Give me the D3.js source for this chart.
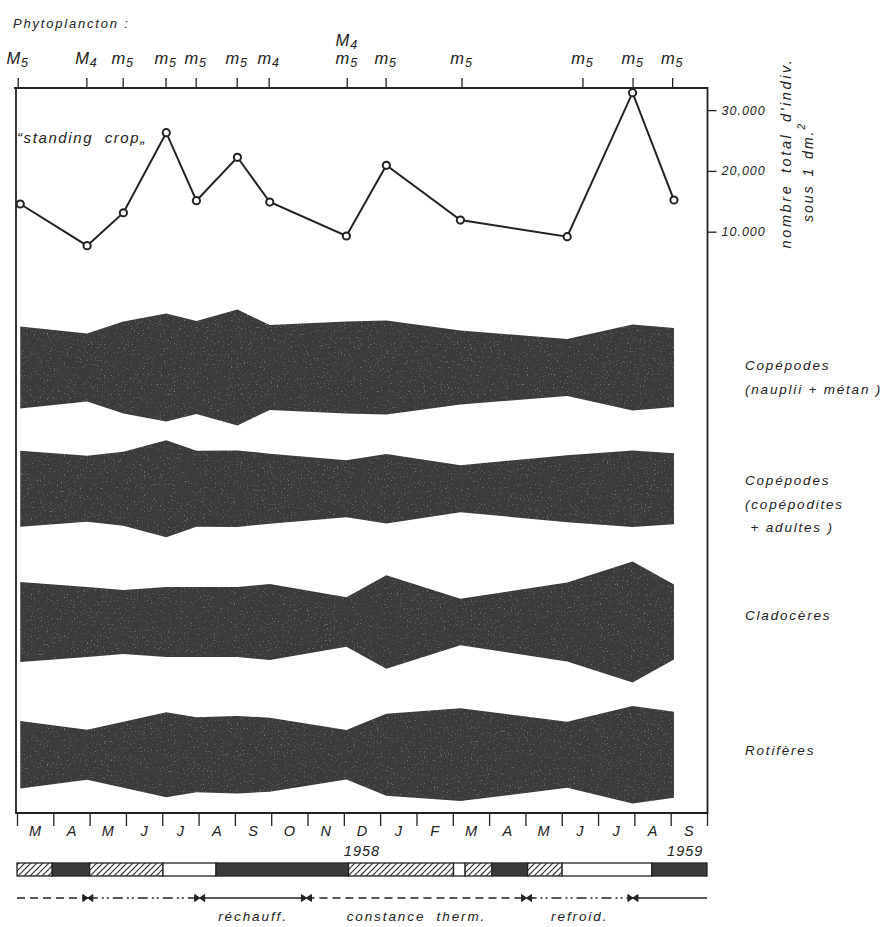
<!DOCTYPE html>
<html>
<head>
<meta charset="utf-8">
<script src="https://cdn.jsdelivr.net/npm/d3@7"></script>
<style>
  body { margin: 0; background: #fff; }
  svg { font-family: 'Liberation Sans', Arial, sans-serif; font-style: italic; }
  text { fill: #222; }
</style>
</head>
<body>
<svg width="893" height="927"></svg>
<script>
// time axis: months counted from 1 March 1958
const months = ['M','A','M','J','J','A','S','O','N','D','J','F','M','A','M','J','J','A','S'];
const yearLabels = ['1958', '1959'];
const yearMonths = [9.5, 18.4];

// sampling dates and phytoplankton standing crop (indiv. / dm2)
const sampleMonths = [0.09, 1.93, 2.93, 4.11, 4.94, 6.07, 6.96, 9.07, 10.17, 12.21, 15.15, 16.95, 18.09];
const phyto = [14560, 7700, 13120, 26280, 15100, 22240, 14880, 9290, 20920, 11920, 9180, 32860, 15210];

// dominant phytoplankton types on the top axis
const phytoLabelMonths = [0.02, 1.91, 2.91, 4.09, 4.92, 6.05, 6.93, 9.08, 10.15, 12.24, 15.57, 16.95, 18.04];
const phytoLabels = ['M5','M4','m5','m5','m5','m5','m4','m5','m5','m5','m5','m5','m5'];
const phytoLabelsUpper = ['','','','','','','','M4','','','','',''];
const phytoTicks = [10000, 20000, 30000];
const phytoTickLabels = ['10.000', '20,000', '30.000'];

// zooplankton relative abundance (kite half-widths, arbitrary units)
const copNauplii = [41, 34, 46, 54, 46.5, 58, 42.5, 46, 47, 37, 28.5, 43, 39.5];
const copAdultes = [38, 33, 37, 48.5, 38, 38.3, 35, 28.5, 34.7, 23.5, 33.5, 38.3, 35.5];
const cladoceres = [40, 35, 32, 35, 35, 35, 38, 24.7, 46.7, 23.3, 39.5, 60.5, 37.5];
const rotiferes = [33.8, 25, 33, 42.5, 37.5, 38.7, 37, 24.7, 41, 46.4, 33, 48.7, 43];
const groupLabels = [
  ['Copépodes', '(nauplii + métan )'],
  ['Copépodes', '(copépodites', ' + adultes )'],
  ['Cladocères'],
  ['Rotifères']
];

// stratification bar
const stratBreaks = [0, 0.97, 2, 4.02, 5.48, 9.13, 12.02, 12.34, 13.08, 14.06, 15.01, 17.48, 19];
const stratTypes = ['hatch','dark','hatch','white','dark','hatch','white','hatch','dark','hatch','white','dark'];

// thermal phases
const phaseBreaks = [0, 1.95, 5.03, 7.97, 14.03, 16.96, 19];
const phaseTypes = ['const','refroid','rechauff','const','refroid','rechauff'];
const phaseNames = { rechauff: 'réchauff.', const: 'constance  therm.', refroid: 'refroid.' };
const phaseLabelIdx = [2, 3, 4];

// ---- layout
const svg = d3.select('svg');
const frame = { left: 16, right: 707.5, top: 88, bottom: 813 };
const rowCenters = [367.5, 488.7, 622, 754.7];
const labelTops = [365, 480, 615, 750];
const ink = '#222';
const bandFill = '#3a3a3a';

const xScale = d3.scaleLinear().domain([0, 19]).range([17, 707]);
const yPhyto = d3.scaleLinear().domain([0, 30000]).range([292.5, 110.1]);
const wScale = d3.scaleLinear().domain([0, 60]).range([0, 60]);

const defs = svg.append('defs');

// faint grain for the printed dark tone
const grain = defs.append('filter').attr('id', 'grain')
  .attr('x', 0).attr('y', 0).attr('width', 1).attr('height', 1);
grain.append('feTurbulence').attr('type', 'fractalNoise')
  .attr('baseFrequency', 0.7).attr('numOctaves', 2).attr('seed', 4).attr('result', 'n');
grain.append('feColorMatrix').attr('in', 'n').attr('type', 'matrix')
  .attr('values', '0 0 0 0 0.5  0 0 0 0 0.5  0 0 0 0 0.5  1.6 0 0 0 -1.02')
  .attr('result', 'spk');
grain.append('feComposite').attr('in', 'spk').attr('in2', 'SourceGraphic')
  .attr('operator', 'in').attr('result', 'spkIn');
const merge = grain.append('feMerge');
merge.append('feMergeNode').attr('in', 'SourceGraphic');
merge.append('feMergeNode').attr('in', 'spkIn');

// frame
svg.append('path')
  .attr('d', `M${frame.left - 2},${frame.top} H${frame.right} V${frame.bottom} H${frame.left} V${frame.top}`)
  .attr('fill', 'none').attr('stroke', ink).attr('stroke-width', 1.8);

// top axis: phytoplankton types
const topAxis = svg.append('g')
  .attr('transform', `translate(0,${frame.top})`)
  .call(d3.axisTop(xScale).tickValues(phytoLabelMonths).tickSize(10).tickFormat(''));
topAxis.select('.domain').remove();
topAxis.selectAll('.tick line').attr('stroke', ink).attr('stroke-width', 1.3);

const addSubLabel = (sel, s) => {
  sel.append('tspan').text(s[0]);
  sel.append('tspan').attr('dy', 3).attr('font-size', 12.5).text(s.slice(1));
};
phytoLabels.forEach((s, i) => {
  const t = svg.append('text')
    .attr('x', xScale(phytoLabelMonths[i])).attr('y', 64)
    .attr('text-anchor', 'middle').attr('font-size', 16.5).attr('letter-spacing', 0.8);
  addSubLabel(t, s);
  if (phytoLabelsUpper[i]) {
    const u = svg.append('text')
      .attr('x', xScale(phytoLabelMonths[i])).attr('y', 46)
      .attr('text-anchor', 'middle').attr('font-size', 16.5).attr('letter-spacing', 0.8);
    addSubLabel(u, phytoLabelsUpper[i]);
  }
});

svg.append('text').attr('x', 13).attr('y', 28)
  .attr('font-size', 13).attr('letter-spacing', 1.8).text('Phytoplancton :');

// right axis
const rAxis = svg.append('g')
  .attr('transform', `translate(${frame.right},0)`)
  .call(d3.axisRight(yPhyto).tickValues(phytoTicks).tickSize(9)
    .tickFormat((d, i) => phytoTickLabels[i]));
rAxis.select('.domain').remove();
rAxis.selectAll('.tick line').attr('stroke', ink).attr('stroke-width', 1.3);
rAxis.selectAll('.tick text')
  .attr('x', 14).attr('font-size', 12.5).attr('font-family', 'Liberation Sans, Arial, sans-serif')
  .attr('letter-spacing', 1).attr('fill', ink);

svg.append('text')
  .attr('transform', 'translate(791,153) rotate(-90)')
  .attr('text-anchor', 'middle').attr('font-size', 14.5).attr('letter-spacing', 2.6)
  .attr('word-spacing', 4)
  .text("nombre total d'indiv.");
const unit = svg.append('text')
  .attr('transform', 'translate(813,172) rotate(-90)')
  .attr('text-anchor', 'middle').attr('font-size', 14).attr('letter-spacing', 2)
  .attr('word-spacing', 2);
unit.append('tspan').text('sous 1 dm.');
unit.append('tspan').attr('dy', -8).attr('font-size', 10).text('2');

// standing crop line
svg.append('text').attr('x', 17).attr('y', 143)
  .attr('font-size', 15).attr('letter-spacing', 1.6)
  .attr('xml:space', 'preserve').text('“standing  crop„');

const line = d3.line()
  .x((d, i) => xScale(sampleMonths[i]))
  .y(d => yPhyto(d));
svg.append('path').datum(phyto)
  .attr('d', line).attr('fill', 'none')
  .attr('stroke', ink).attr('stroke-width', 2);
svg.selectAll('circle.pt').data(phyto).enter().append('circle')
  .attr('class', 'pt')
  .attr('cx', (d, i) => xScale(sampleMonths[i]))
  .attr('cy', d => yPhyto(d))
  .attr('r', 3.6)
  .attr('fill', '#fff').attr('stroke', ink).attr('stroke-width', 2);

// kite diagrams
const series = [copNauplii, copAdultes, cladoceres, rotiferes];
series.forEach((vals, k) => {
  const c = rowCenters[k];
  const area = d3.area()
    .x((d, i) => xScale(sampleMonths[i]))
    .y0(d => c - wScale(d))
    .y1(d => c + wScale(d));
  svg.append('path').datum(vals).attr('d', area)
    .attr('fill', bandFill).attr('filter', 'url(#grain)');

  groupLabels[k].forEach((s, j) => {
    svg.append('text')
      .attr('x', 745).attr('y', labelTops[k] + j * 23.5 + 5)
      .attr('font-size', 13.5).attr('letter-spacing', 1.8)
      .attr('xml:space', 'preserve')
      .text(s);
  });
});

// month axis
const mAxis = svg.append('g')
  .attr('transform', `translate(0,${frame.bottom})`)
  .call(d3.axisBottom(xScale).tickValues(d3.range(0, 20)).tickSize(13).tickFormat(''));
mAxis.select('.domain').remove();
mAxis.selectAll('.tick line').attr('stroke', ink).attr('stroke-width', 1.3);

svg.selectAll('text.month').data(months).enter().append('text')
  .attr('class', 'month')
  .attr('x', (d, i) => xScale(i + 0.5)).attr('y', 836)
  .attr('text-anchor', 'middle').attr('font-size', 14.5)
  .text(d => d);

yearLabels.forEach((s, i) => {
  svg.append('text').attr('x', xScale(yearMonths[i])).attr('y', 856)
    .attr('text-anchor', 'middle').attr('font-size', 14.5).attr('letter-spacing', 1)
    .text(s);
});

// stratification bar
const pat = defs.append('pattern').attr('id', 'hatch')
  .attr('patternUnits', 'userSpaceOnUse').attr('width', 6).attr('height', 6);
pat.append('rect').attr('width', 6).attr('height', 6).attr('fill', '#fff');
pat.append('path').attr('d', 'M0,6 L6,0 M-1,1 L1,-1 M5,7 L7,5')
  .attr('stroke', '#333').attr('stroke-width', 1.2);

const barY = 863, barH = 13;
const fills = { hatch: 'url(#hatch)', dark: '#3a3a3a', white: '#fff' };
svg.selectAll('rect.strat').data(stratTypes).enter().append('rect')
  .attr('class', 'strat')
  .attr('x', (d, i) => xScale(stratBreaks[i]))
  .attr('width', (d, i) => xScale(stratBreaks[i + 1]) - xScale(stratBreaks[i]))
  .attr('y', barY).attr('height', barH)
  .attr('fill', d => fills[d]).attr('stroke', ink).attr('stroke-width', 1.3);

// thermal phases
const phaseY = 898;
const dashes = { const: '8,5', refroid: '10,4,2,3,2,4', rechauff: null };
phaseTypes.forEach((t, i) => {
  svg.append('line')
    .attr('x1', xScale(phaseBreaks[i])).attr('x2', xScale(phaseBreaks[i + 1]))
    .attr('y1', phaseY).attr('y2', phaseY)
    .attr('stroke', ink).attr('stroke-width', 1.4)
    .attr('stroke-dasharray', dashes[t]);
});
phaseBreaks.slice(1, -1).forEach(m => {
  const bx = xScale(m);
  svg.append('path')
    .attr('d', `M${bx - 5},${phaseY - 3.5} L${bx},${phaseY} L${bx - 5},${phaseY + 3.5} Z` +
               `M${bx + 5},${phaseY - 3.5} L${bx},${phaseY} L${bx + 5},${phaseY + 3.5} Z`)
    .attr('fill', ink).attr('stroke', ink).attr('stroke-width', 1);
});
phaseLabelIdx.forEach(i => {
  svg.append('text')
    .attr('x', xScale((phaseBreaks[i] + phaseBreaks[i + 1]) / 2)).attr('y', 921)
    .attr('text-anchor', 'middle').attr('font-size', 13.5).attr('letter-spacing', 1.9)
    .attr('xml:space', 'preserve')
    .text(phaseNames[phaseTypes[i]]);
});
</script>
</body>
</html>
